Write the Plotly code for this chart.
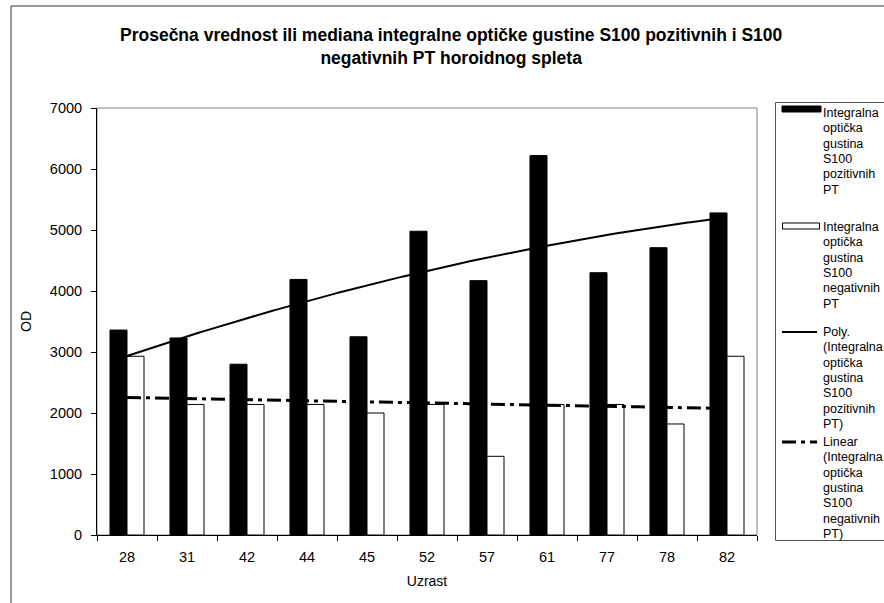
import numpy as np
import plotly.graph_objects as go

# ---------------- data ----------------
ages = ["28", "31", "42", "44", "45", "52", "57", "61", "77", "78", "82"]
pos_vals = [3360, 3230, 2800, 4190, 3250, 4980, 4170, 6220, 4300, 4710, 5280]
neg_vals = [2930, 2140, 2140, 2140, 2000, 2140, 1290, 2140, 2140, 1820, 2930]
y_ticks = [0, 1000, 2000, 3000, 4000, 5000, 6000, 7000]

name_pos = "Integralna optička gustina S100 pozitivnih PT"
name_neg = "Integralna optička gustina S100 negativnih PT"
name_poly = "Poly. (Integralna optička gustina S100 pozitivnih PT)"
name_lin = "Linear (Integralna optička gustina S100 negativnih PT)"

title_lines = ["Prosečna vrednost ili mediana integralne optičke gustine S100 pozitivnih i S100",
               "negativnih PT horoidnog spleta"]
x_title = "Uzrast"
y_title = "OD"

# ---------------- geometry ----------------
W, H = 884, 603
L, R, T, B = 97, 757, 108, 535
FONT = "Arial, Liberation Sans, sans-serif"


def px(x):
    return (x - L) / (R - L)


def py(y):
    return (B - y) / (B - T)


xpos = np.arange(1, len(ages) + 1)
fine = np.linspace(1, len(ages), 200)
poly_fit = np.polyval(np.polyfit(xpos, pos_vals, 2), fine)
lin_fit = np.polyval(np.polyfit(xpos, neg_vals, 1), fine)
DASH = "14px,5px,4px,5px"

fig = go.Figure()
fig.add_bar(x=xpos, y=pos_vals, name=name_pos, showlegend=False,
            marker=dict(color="black", line=dict(color="black", width=1)))
fig.add_bar(x=xpos, y=neg_vals, name=name_neg, showlegend=False,
            marker=dict(color="white", line=dict(color="black", width=1)))
fig.add_scatter(x=fine, y=poly_fit, mode="lines", name=name_poly, showlegend=False,
                line=dict(color="black", width=2))
fig.add_scatter(x=fine, y=lin_fit, mode="lines", name=name_lin, showlegend=False,
                line=dict(color="black", width=3, dash=DASH))

shapes = []
# plot-area border (grey)
shapes.append(dict(type="rect", xref="paper", yref="paper", x0=0, x1=1, y0=0, y1=1,
                   line=dict(color="#808080", width=1), layer="below"))
# chart-area border (left and top visible)
shapes.append(dict(type="line", xref="paper", yref="paper", x0=px(11), x1=px(11),
                   y0=py(6), y1=py(640), line=dict(color="#333333", width=1)))
shapes.append(dict(type="line", xref="paper", yref="paper", x0=px(11), x1=px(920),
                   y0=py(6), y1=py(6), line=dict(color="#333333", width=1)))
# legend box
shapes.append(dict(type="rect", xref="paper", yref="paper", x0=px(775.5), x1=px(920),
                   y0=py(540.5), y1=py(102.5), line=dict(color="#555555", width=1),
                   fillcolor="white"))
# legend symbols
shapes.append(dict(type="rect", xref="paper", yref="paper", x0=px(782), x1=px(821),
                   y0=py(112), y1=py(106), line=dict(color="black", width=1), fillcolor="black"))
shapes.append(dict(type="rect", xref="paper", yref="paper", x0=px(782.5), x1=px(819.5),
                   y0=py(229), y1=py(223), line=dict(color="black", width=1), fillcolor="white"))
shapes.append(dict(type="line", xref="paper", yref="paper", x0=px(782), x1=px(817),
                   y0=py(332), y1=py(332), line=dict(color="black", width=2)))
shapes.append(dict(type="line", xref="paper", yref="paper", x0=px(782), x1=px(817),
                   y0=py(442), y1=py(442), line=dict(color="black", width=3, dash=DASH)))

annotations = []
# title
annotations.append(dict(text="<br>".join(title_lines), xref="paper", yref="paper",
                        x=px(451), y=py(23), xanchor="center", yanchor="top",
                        align="center", showarrow=False,
                        font=dict(family=FONT, size=17.5, color="black", weight="bold")))
# legend texts (one word per line, as wrapped in the reference)
LINE = 15.3
for name, yc in [(name_pos, 113), (name_neg, 227), (name_poly, 332), (name_lin, 442)]:
    for k, word in enumerate(name.split(" ")):
        annotations.append(dict(text=word, xref="paper", yref="paper",
                                x=px(821), y=py(yc + k * LINE), xanchor="left",
                                yanchor="middle", align="left", showarrow=False,
                                font=dict(family=FONT, size=12.5, color="black")))

fig.update_layout(
    width=W, height=H, autosize=False,
    margin=dict(l=L, r=W - R, t=T, b=H - B, pad=0),
    paper_bgcolor="white", plot_bgcolor="white",
    barmode="group", bargap=0.433, bargroupgap=0,
    showlegend=False,
    xaxis=dict(range=[0.5, len(ages) + 0.5], tickvals=xpos, ticktext=ages,
               ticks="", showline=True, linecolor="black", linewidth=1,
               showgrid=False, zeroline=False,
               minor=dict(tickvals=list(np.arange(0.5, len(ages) + 1, 1.0)),
                          ticks="outside", ticklen=5, tickcolor="black", tickwidth=1,
                          showgrid=False),
               tickfont=dict(family=FONT, size=14.5, color="black"),
               ticklabelstandoff=9,
               title=dict(text=x_title, font=dict(family=FONT, size=14, color="black"),
                          standoff=11)),
    yaxis=dict(range=[0, 7000], tickvals=y_ticks, ticks="outside", ticklen=5,
               tickcolor="black", tickwidth=1, showline=True, linecolor="black",
               linewidth=1, showgrid=False, zeroline=False,
               tickfont=dict(family=FONT, size=14.5, color="black"),
               ticklabelstandoff=6,
               title=dict(text=y_title, font=dict(family=FONT, size=14, color="black"),
                          standoff=14)),
    shapes=shapes,
    annotations=annotations,
)

fig.write_html("out.html", config={"displayModeBar": False},
               post_script="document.body.style.margin='0';"
                           "document.body.style.overflow='hidden';")
